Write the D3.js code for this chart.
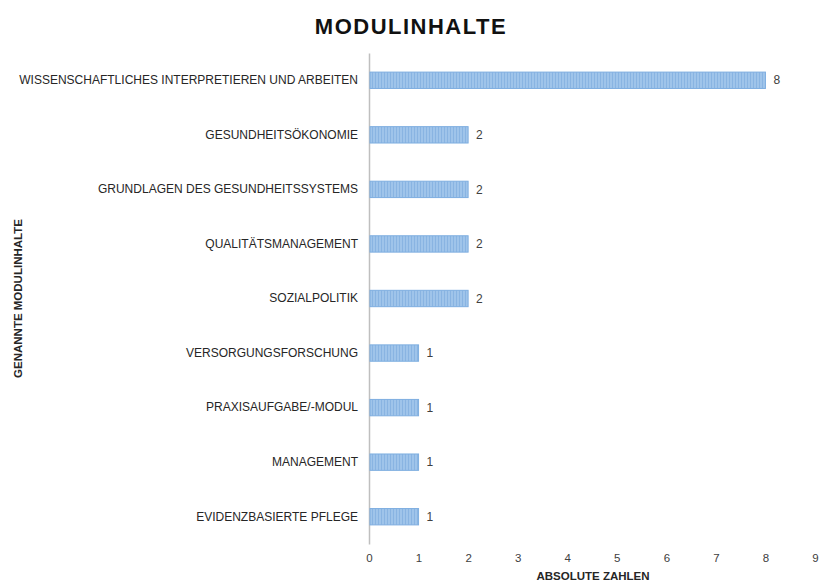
<!DOCTYPE html>
<html>
<head>
<meta charset="utf-8">
<script src="https://cdn.jsdelivr.net/npm/d3@7"></script>
<style>
  body { margin: 0; background: #fff; }
  svg text { font-family: "Liberation Sans", Arial, sans-serif; }
</style>
</head>
<body>
<svg id="chart"></svg>
<script>
// data, top to bottom
const categories = [
  "WISSENSCHAFTLICHES INTERPRETIEREN UND ARBEITEN",
  "GESUNDHEITSÖKONOMIE",
  "GRUNDLAGEN DES GESUNDHEITSSYSTEMS",
  "QUALITÄTSMANAGEMENT",
  "SOZIALPOLITIK",
  "VERSORGUNGSFORSCHUNG",
  "PRAXISAUFGABE/-MODUL",
  "MANAGEMENT",
  "EVIDENZBASIERTE PFLEGE"
];
const values = [8, 2, 2, 2, 2, 1, 1, 1, 1];
const xTicks = [0, 1, 2, 3, 4, 5, 6, 7, 8, 9];

const width = 821, height = 581;
const margin = {top: 53, right: 2, bottom: 37, left: 369};
const innerH = height - margin.top - margin.bottom;

const svg = d3.select('#chart')
    .attr('width', width)
    .attr('height', height);

// striped fill like the original
const defs = svg.append('defs');
const pat = defs.append('pattern')
    .attr('id', 'stripes')
    .attr('patternUnits', 'userSpaceOnUse')
    .attr('width', 3)
    .attr('height', 4);
pat.append('rect').attr('width', 3).attr('height', 4).attr('fill', '#9fc4ea');
pat.append('rect').attr('width', 1).attr('height', 4).attr('fill', '#89b4e2');

const data = categories.map((c, i) => ({name: c, value: values[i]}));

const xScale = d3.scaleLinear()
    .domain([0, 9])
    .range([0, 446]);

const yScale = d3.scaleBand()
    .domain(categories)
    .range([0, innerH])
    .paddingInner(0.7)
    .paddingOuter(0.35);

const chart = svg.append('g')
    .attr('transform', `translate(${margin.left},${margin.top})`);

// title
svg.append('text')
    .attr('x', 411)
    .attr('y', 34)
    .attr('text-anchor', 'middle')
    .style('font-size', '22px')
    .style('font-weight', 'bold')
    .style('letter-spacing', '1.5px')
    .attr('fill', '#111')
    .text('MODULINHALTE');

// x axis (labels only)
const xAxis = d3.axisBottom(xScale)
    .tickValues(xTicks)
    .tickSize(0)
    .tickPadding(0)
    .tickFormat(d3.format('d'));

const xAxisG = chart.append('g')
    .attr('class', 'axis x-axis')
    .attr('transform', `translate(0,${innerH + 10})`)
    .call(xAxis);
xAxisG.select('.domain').remove();
xAxisG.selectAll('text')
    .style('font-size', '11.5px')
    .attr('fill', '#404040');

// y axis
const yAxis = d3.axisLeft(yScale)
    .tickSize(0)
    .tickPadding(11);

const yAxisG = chart.append('g')
    .attr('class', 'axis y-axis')
    .call(yAxis);
yAxisG.select('.domain')
    .attr('stroke', '#bfbfbf')
    .attr('stroke-width', 1.5);
yAxisG.selectAll('text')
    .style('font-size', '12px')
    .attr('fill', '#262626');

// bars
chart.selectAll('.bar')
    .data(data)
  .join('rect')
    .attr('class', 'bar')
    .attr('x', xScale(0) + 1)
    .attr('y', d => yScale(d.name))
    .attr('width', d => xScale(d.value) - xScale(0) - 1)
    .attr('height', yScale.bandwidth())
    .attr('fill', 'url(#stripes)')
    .attr('stroke', '#7eaee0')
    .attr('stroke-width', 1);

// value labels
chart.selectAll('.val')
    .data(data)
  .join('text')
    .attr('class', 'val')
    .attr('x', d => xScale(d.value) + 8)
    .attr('y', d => yScale(d.name) + yScale.bandwidth() / 2)
    .attr('dy', '0.35em')
    .style('font-size', '12px')
    .attr('fill', '#404040')
    .text(d => d.value);

// axis titles
svg.append('text')
    .attr('x', 593)
    .attr('y', 580)
    .attr('text-anchor', 'middle')
    .style('font-size', '11.5px')
    .style('font-weight', 'bold')
    .attr('fill', '#262626')
    .text('ABSOLUTE ZAHLEN');

svg.append('text')
    .attr('transform', `translate(22,${margin.top + innerH / 2}) rotate(-90)`)
    .attr('text-anchor', 'middle')
    .style('font-size', '11.5px')
    .style('font-weight', 'bold')
    .attr('fill', '#262626')
    .text('GENANNTE MODULINHALTE');
</script>
</body>
</html>
